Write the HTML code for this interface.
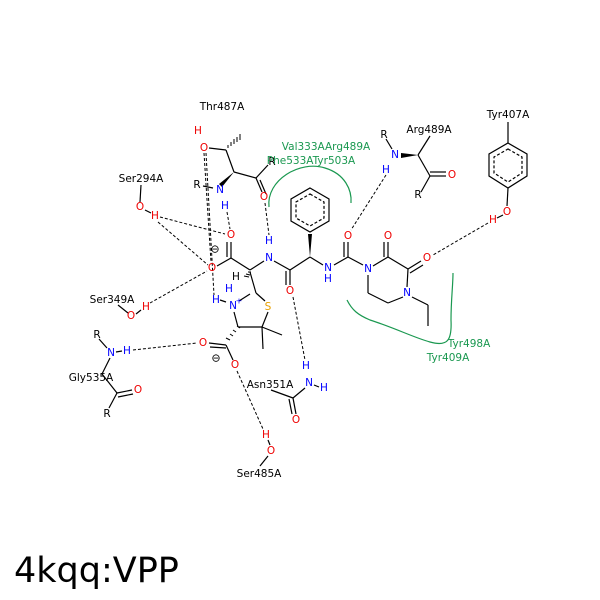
<!DOCTYPE html>
<html><head><style>
body{margin:0;background:#fff}
svg{display:block}
text{font-family:"DejaVu Sans","Liberation Sans",sans-serif;font-size:10.5px;text-anchor:middle;dominant-baseline:central}
.b{fill:#000}.r{fill:#e00}.n{fill:#00f}.s{fill:#e8a000}.g{fill:#1a9850}
</style></head><body>
<svg width="600" height="600" viewBox="0 0 600 600">
<g stroke="#000" stroke-width="1.2" fill="none">
<line x1="209" y1="148" x2="226" y2="150"/>
<line x1="226" y1="150" x2="234" y2="172"/>
<line x1="234" y1="172" x2="256" y2="178"/>
<line x1="256" y1="178" x2="268" y2="165"/>
<line x1="256" y1="178" x2="262" y2="192"/><line x1="260" y1="180" x2="266" y2="194"/>
<line x1="203" y1="186" x2="213" y2="188"/>
<line x1="141" y1="185" x2="140" y2="202"/>
<line x1="145" y1="210" x2="151" y2="213"/>
<line x1="118" y1="305" x2="128" y2="313"/>
<line x1="136" y1="314" x2="141" y2="310"/>
<line x1="231" y1="242" x2="231" y2="258"/><line x1="227" y1="242" x2="227" y2="257"/>
<line x1="231" y1="258" x2="217" y2="266"/>
<line x1="231" y1="258" x2="250" y2="270"/>
<line x1="250" y1="270" x2="264" y2="261"/>
<line x1="274" y1="261" x2="290" y2="270"/>
<line x1="290" y1="270" x2="290" y2="285"/><line x1="286" y1="271" x2="286" y2="285"/>
<line x1="290" y1="270" x2="310" y2="257"/>
<line x1="310" y1="257" x2="323" y2="265"/>
<line x1="334" y1="265" x2="348" y2="257"/>
<line x1="348" y1="257" x2="348" y2="242"/><line x1="344" y1="257" x2="344" y2="242"/>
<line x1="348" y1="257" x2="363" y2="265"/>
<line x1="373" y1="266" x2="388" y2="257"/>
<line x1="388" y1="257" x2="388" y2="242"/><line x1="384" y1="257" x2="384" y2="242"/>
<line x1="388" y1="257" x2="408" y2="269"/>
<line x1="408" y1="269" x2="421" y2="261"/><line x1="410" y1="273" x2="423" y2="265"/>
<line x1="408" y1="269" x2="407" y2="287"/>
<line x1="403" y1="297" x2="388" y2="303"/>
<line x1="388" y1="303" x2="368" y2="293"/>
<line x1="368" y1="293" x2="368" y2="275"/>
<line x1="412" y1="297" x2="428" y2="305"/>
<line x1="428" y1="305" x2="428" y2="326"/>
<polygon points="310,188 329,199 329,221 310,232 291,221 291,199"/>
<polygon points="310,194 324,202 324,218 310,226 296,218 296,202" stroke-dasharray="3,2"/>
<line x1="250" y1="272" x2="256" y2="293"/>
<line x1="256" y1="293" x2="265" y2="301"/>
<line x1="268" y1="312" x2="262" y2="327"/>
<line x1="262" y1="327" x2="238" y2="327"/>
<line x1="238" y1="327" x2="234" y2="312"/>
<line x1="239" y1="301" x2="250" y2="294"/>
<line x1="262" y1="327" x2="282" y2="335"/>
<line x1="262" y1="327" x2="263" y2="349"/>
<line x1="220" y1="300" x2="226" y2="302"/>
<line x1="226" y1="345" x2="209" y2="343"/><line x1="226" y1="348" x2="210" y2="347"/>
<line x1="226" y1="345" x2="233" y2="360"/>
<line x1="99" y1="339" x2="107" y2="348"/>
<line x1="116" y1="352" x2="122" y2="351"/>
<line x1="110" y1="358" x2="102" y2="374"/>
<line x1="102" y1="374" x2="117" y2="393"/>
<line x1="117" y1="393" x2="132" y2="390"/><line x1="118" y1="397" x2="133" y2="394"/>
<line x1="117" y1="393" x2="109" y2="408"/>
<line x1="268" y1="440" x2="270" y2="445"/>
<line x1="268" y1="456" x2="260" y2="466"/>
<line x1="271" y1="390" x2="293" y2="398"/>
<line x1="293" y1="398" x2="305" y2="388"/>
<line x1="293" y1="398" x2="296" y2="414"/><line x1="289" y1="399" x2="292" y2="414"/>
<line x1="314" y1="385" x2="319" y2="387"/>
<line x1="386" y1="139" x2="392" y2="149"/>
<line x1="418" y1="155" x2="430" y2="136"/>
<line x1="418" y1="155" x2="430" y2="176"/>
<line x1="430" y1="176" x2="446" y2="176"/><line x1="430" y1="172" x2="446" y2="172"/>
<line x1="430" y1="176" x2="421" y2="192"/>
<line x1="508" y1="122" x2="508" y2="143"/>
<polygon points="508,143 527,154 527,176 508,188 489,176 489,154"/>
<polygon points="508,149 522,157 522,173 508,182 494,173 494,157" stroke-dasharray="3,2"/>
<line x1="508" y1="188" x2="507" y2="206"/>
<line x1="503" y1="215" x2="497" y2="218"/>
</g>
<g fill="#000">
<polygon points="234,172 219,184 222,187"/>
<polygon points="310,257 308,234 312,234"/>
<polygon points="418,155 401,153 401,158"/>
</g>
<g stroke="#000" stroke-width="1">
<path d="M228,148 l0,-3 M231,146 l0,-4 M234,144 l0,-5 M237,142 l0,-5 M240,140 l0,-6"/>
<path d="M248,272 l3,0 M246,274 l4,1 M244,276 l5,1"/>
<path d="M240,328 l-3,-2 M236,332 l-3,-2 M233,336 l-3,-2 M230,340 l-4,-2"/>
</g>
<g stroke="#000" stroke-width="1" stroke-dasharray="3,2" fill="none">
<line x1="160" y1="217" x2="225" y2="234"/>
<line x1="158" y1="222" x2="208" y2="265"/>
<line x1="150" y1="303" x2="207" y2="271"/>
<line x1="206" y1="153" x2="214" y2="295"/>
<line x1="204" y1="153" x2="211" y2="262"/>
<line x1="227" y1="212" x2="230" y2="229"/>
<line x1="265" y1="203" x2="269" y2="235"/>
<line x1="293" y1="297" x2="305" y2="360"/>
<line x1="133" y1="350" x2="197" y2="343"/>
<line x1="237" y1="371" x2="263" y2="429"/>
<line x1="386" y1="175" x2="351" y2="230"/>
<line x1="488" y1="223" x2="433" y2="255"/>
</g>
<g stroke="#1a9850" stroke-width="1.2" fill="none">
<path d="M269,207 C266,180 300,160 325,168 C345,174 352,190 351,203"/>
<path d="M347,300 C352,310 358,315 370,320 C395,328 415,338 430,342 C448,347 452,340 451,320 C451,300 453,285 453,273"/>
</g>
<text x="222" y="107" class="b">Thr487A</text>
<text x="198" y="131" class="r">H</text>
<text x="204" y="148" class="r">O</text>
<text x="272" y="162" class="b">R</text>
<text x="264" y="197" class="r">O</text>
<text x="197" y="185" class="b">R</text>
<text x="220" y="190" class="n">N</text>
<text x="225" y="206" class="n">H</text>
<text x="141" y="179" class="b">Ser294A</text>
<text x="140" y="207" class="r">O</text>
<text x="155" y="216" class="r">H</text>
<text x="231" y="235" class="r">O</text>
<text x="215" y="249" class="b" style="font-size:11px">⊖</text>
<text x="212" y="268" class="r">O</text>
<text x="236" y="277" class="b">H</text>
<text x="269" y="241" class="n">H</text>
<text x="269" y="258" class="n">N</text>
<text x="290" y="291" class="r">O</text>
<text x="328" y="268" class="n">N</text>
<text x="328" y="279" class="n">H</text>
<text x="348" y="236" class="r">O</text>
<text x="368" y="269" class="n">N</text>
<text x="388" y="236" class="r">O</text>
<text x="427" y="258" class="r">O</text>
<text x="407" y="293" class="n">N</text>
<text x="112" y="300" class="b">Ser349A</text>
<text x="131" y="316" class="r">O</text>
<text x="146" y="307" class="r">H</text>
<text x="229" y="289" class="n">H</text>
<text x="216" y="300" class="n">H</text>
<text x="233" y="306" class="n">N</text>
<text x="239" y="301" class="n" style="font-size:8px">+</text>
<text x="268" y="307" class="s">S</text>
<text x="203" y="343" class="r">O</text>
<text x="235" y="365" class="r">O</text>
<text x="216" y="358" class="b" style="font-size:11px">⊖</text>
<text x="97" y="335" class="b">R</text>
<text x="111" y="353" class="n">N</text>
<text x="127" y="351" class="n">H</text>
<text x="91" y="378" class="b">Gly535A</text>
<text x="138" y="390" class="r">O</text>
<text x="107" y="414" class="b">R</text>
<text x="266" y="435" class="r">H</text>
<text x="271" y="451" class="r">O</text>
<text x="259" y="474" class="b">Ser485A</text>
<text x="306" y="366" class="n">H</text>
<text x="309" y="383" class="n">N</text>
<text x="324" y="388" class="n">H</text>
<text x="270" y="385" class="b">Asn351A</text>
<text x="296" y="420" class="r">O</text>
<text x="429" y="130" class="b">Arg489A</text>
<text x="384" y="135" class="b">R</text>
<text x="395" y="155" class="n">N</text>
<text x="386" y="170" class="n">H</text>
<text x="452" y="175" class="r">O</text>
<text x="418" y="195" class="b">R</text>
<text x="508" y="115" class="b">Tyr407A</text>
<text x="507" y="212" class="r">O</text>
<text x="493" y="220" class="r">H</text>
<text x="326" y="147" class="g">Val333AArg489A</text>
<text x="311" y="161" class="g">Phe533ATyr503A</text>
<text x="469" y="344" class="g">Tyr498A</text>
<text x="448" y="358" class="g">Tyr409A</text>
<text x="14" y="571" style="font-size:35px;text-anchor:start">4kqq:VPP</text>
</svg>
</body></html>
